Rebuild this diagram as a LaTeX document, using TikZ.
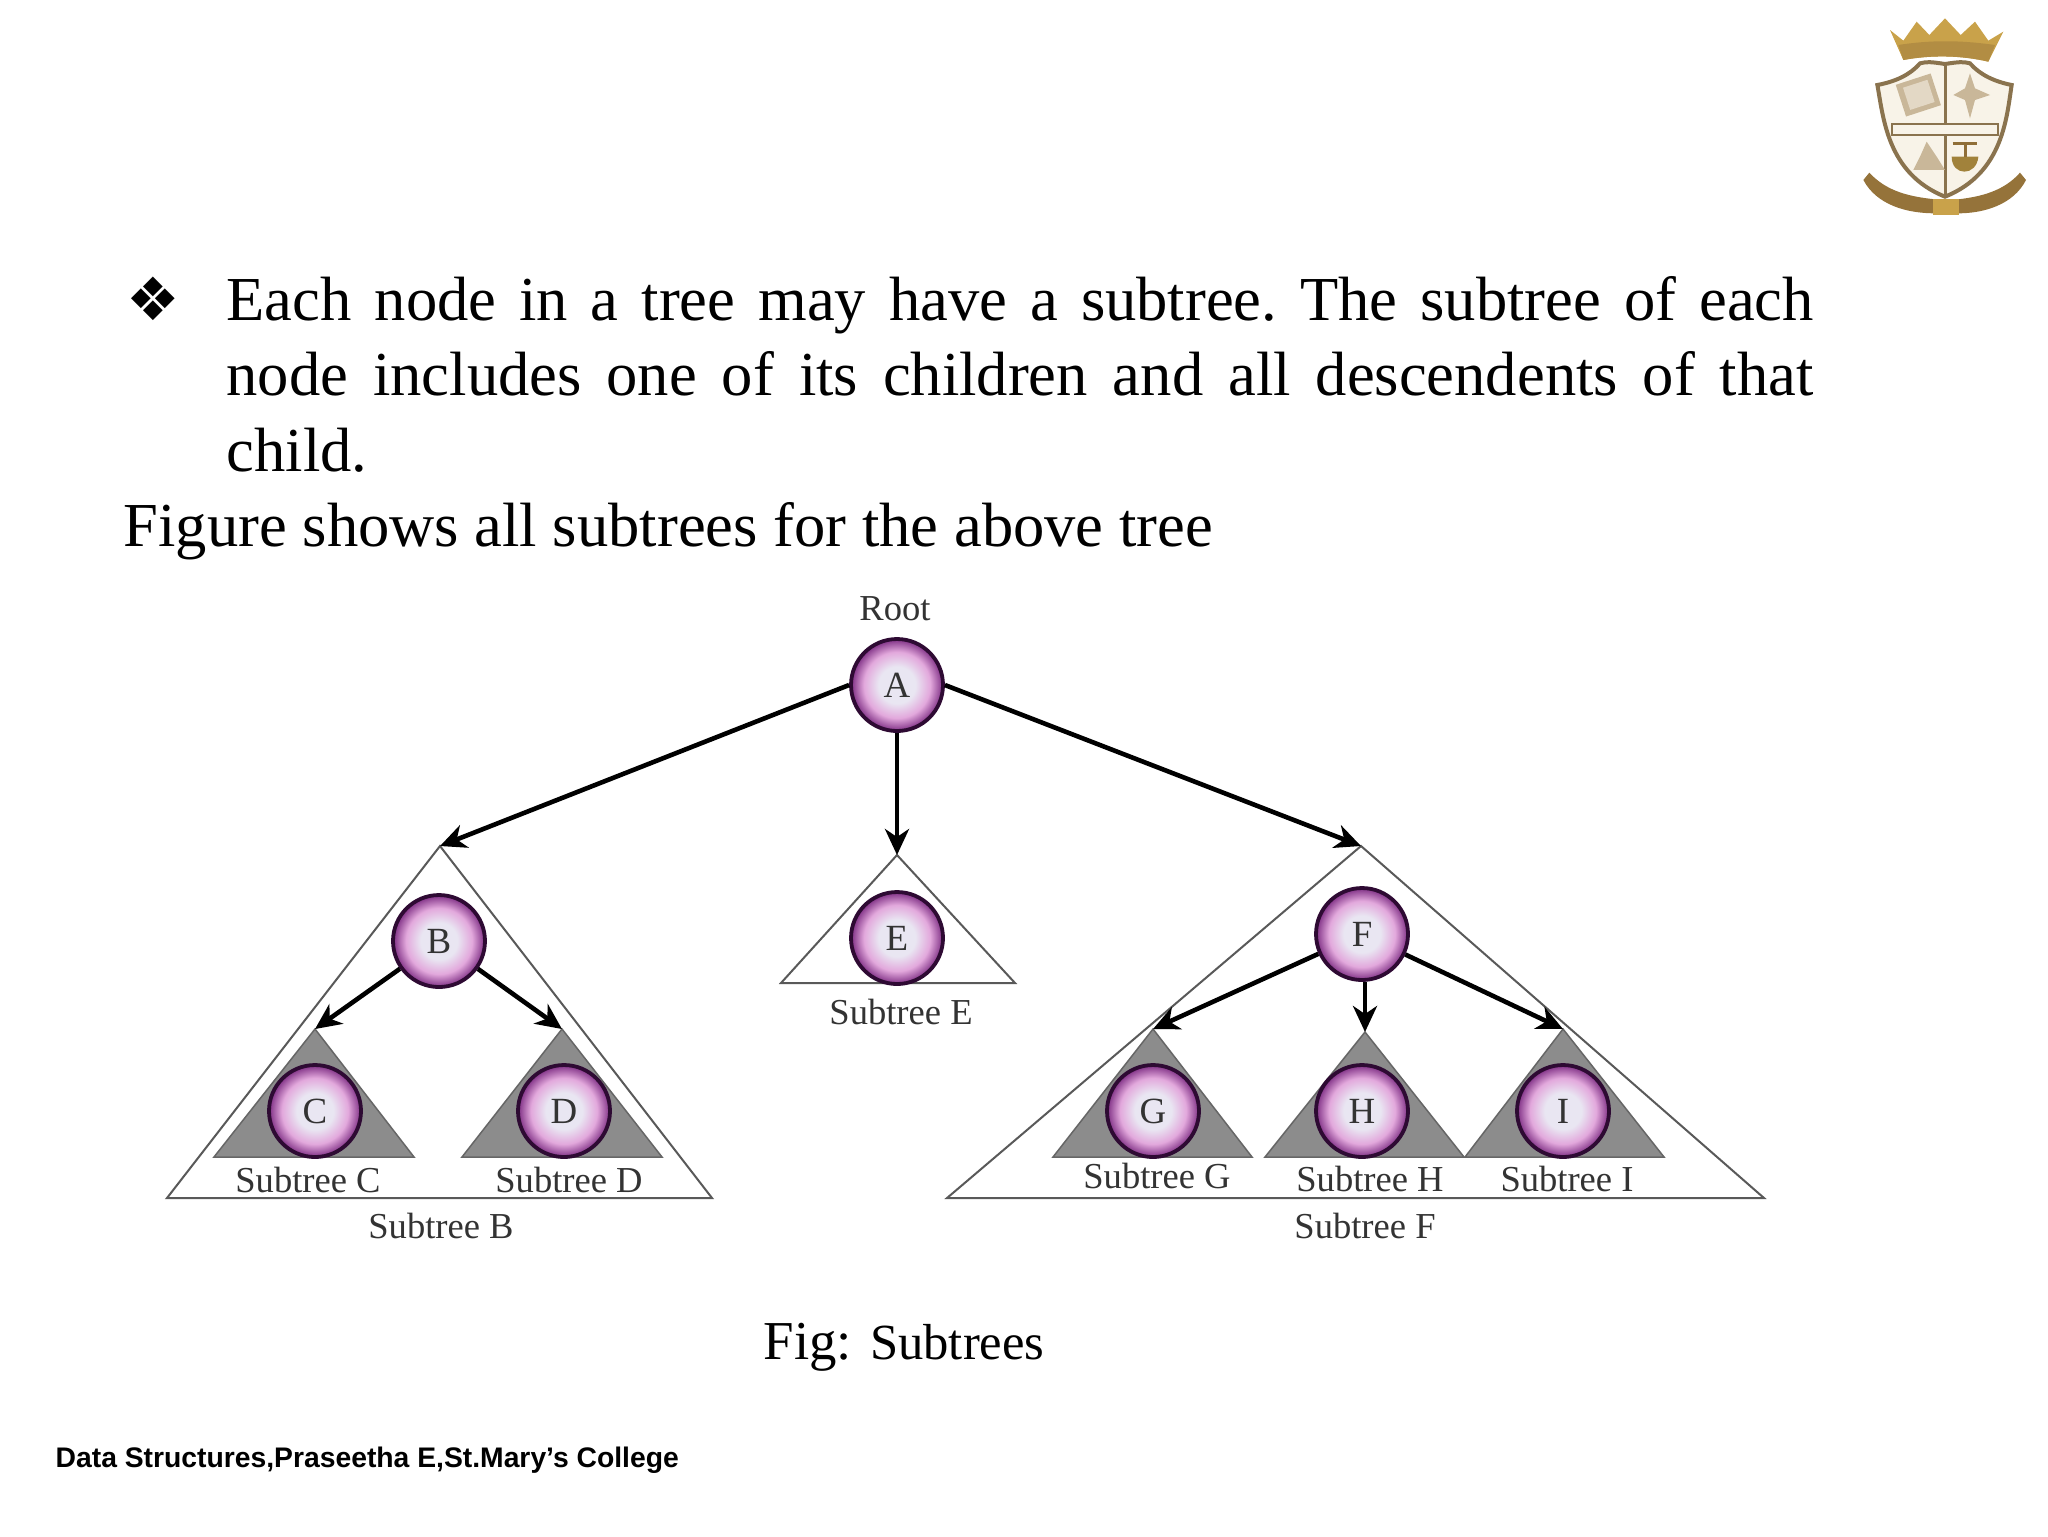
\documentclass[tikz,border=0pt]{standalone}
\usepackage{fontspec}
\setmainfont{Liberation Serif}
\newfontfamily\footfont{Liberation Sans}
\newfontfamily\dingfont{DejaVu Sans}
\usetikzlibrary{arrows.meta, positioning, shapes.geometric}
\definecolor{ballin}{HTML}{E9E6F2}
\definecolor{ballmid}{HTML}{E2A8DC}
\definecolor{ballout}{HTML}{7E2E84}
\definecolor{myedge}{HTML}{2E0A33}
\definecolor{mygold}{HTML}{C9A24A}
\definecolor{mybrown}{HTML}{8F6E38}
\definecolor{mycream}{HTML}{F8F3E8}
\pgfdeclareradialshading{ballshade}{\pgfpoint{0bp}{0bp}}{
	color(0bp)=(ballin); color(10bp)=(ballin); color(18bp)=(ballmid);
	color(25bp)=(ballout); color(50bp)=(ballout)
}
\tikzset{
	treenode/.style={
			circle,
			draw=myedge,
			line width=0.38mm,
			shading=ballshade,
			minimum size=9.2mm,
			inner sep=0pt,
			text=black!80,
			font=\fontsize{10.5}{12}\selectfont
		},
	sublabel/.style={
			inner sep=0pt,
			text=black!80,
			font=\fontsize{10.4}{12}\selectfont
		},
	bodytext/.style={
			inner sep=0pt,
			anchor=west,
			font=\fontsize{17.8}{21.4}\selectfont\frenchspacing
		},
	whitetri/.style={
			draw=black!65,
			line width=0.2mm,
			fill=white
		},
	graytri/.style={
			draw=black!60,
			line width=0.15mm,
			fill=black!45
		},
	treearrow/.style={
			-{Stealth[length=2.6mm,width=2.4mm,inset=0.8mm]},
			line width=0.46mm,
			black
		}
}
\begin{document}
\begin{tikzpicture}[x=0.1mm, y=-0.1mm]
	\useasboundingbox (0,0) rectangle (2048,1536);
	% slide text
	\node[bodytext] (bullet) at (126,299) {\dingfont\fontsize{17}{20}\selectfont ❖};
	\node[bodytext, anchor=north west, text width=158.7mm, align=justify] (para) at (226,276)
		{Each node in a tree may have a subtree. The subtree of each\linebreak node includes one of its children and all descendents of that\linebreak child.};
	\node[bodytext] (figline) at (123,531) {Figure shows all subtrees for the above tree};

	% subtree outlines
	\coordinate (tB) at (440,846);
	\coordinate (tE) at (897,855);
	\coordinate (tF) at (1361,846);
	\coordinate (tC) at (315,1029);
	\coordinate (tD) at (562,1029);
	\coordinate (tG) at (1153,1029);
	\coordinate (tH) at (1365,1032);
	\coordinate (tI) at (1563,1029);
	\draw[whitetri] (tB) -- (167,1198) -- (712,1198) -- cycle;
	\draw[whitetri] (tE) -- (781,983) -- (1015,983) -- cycle;
	\draw[whitetri] (tF) -- (947,1198) -- (1764,1198) -- cycle;
	\draw[graytri] (tC) -- (214,1157) -- (414,1157) -- cycle;
	\draw[graytri] (tD) -- (462,1157) -- (662,1157) -- cycle;
	\draw[graytri] (tG) -- (1053,1157) -- (1252,1157) -- cycle;
	\draw[graytri] (tH) -- (1265,1157) -- (1464,1157) -- cycle;
	\draw[graytri] (tI) -- (1465,1157) -- (1664,1157) -- cycle;

	% tree nodes
	\node[treenode] (A) at (897,685) {A};
	\node[treenode] (B) at (439,941) {B};
	\node[treenode] (E) at (897,938) {E};
	\node[treenode] (F) at (1362,934) {F};
	\node[treenode] (C) at (315,1111) {C};
	\node[treenode] (D) at (564,1111) {D};
	\node[treenode] (G) at (1153,1111) {G};
	\node[treenode] (H) at (1362,1111) {H};
	\node[treenode] (I) at (1563,1111) {I};

	\node[sublabel] (root) at (895,609) {Root};
	\node[sublabel] (sC) at (308,1180) {Subtree C};
	\node[sublabel] (sD) at (569,1180) {Subtree D};
	\node[sublabel] (sB) at (441,1226) {Subtree B};
	\node[sublabel] (sE) at (901,1012) {Subtree E};
	\node[sublabel] (sG) at (1157,1176) {Subtree G};
	\node[sublabel] (sH) at (1370,1179) {Subtree H};
	\node[sublabel] (sI) at (1567,1179) {Subtree I};
	\node[sublabel] (sF) at (1365,1226) {Subtree F};

	\draw[treearrow] (A.west) -- (tB);
	\draw[treearrow] (A) -- (tE);
	\draw[treearrow] (A.east) -- (tF);
	\draw[treearrow] (B) -- (tC);
	\draw[treearrow] (B) -- (tD);
	\draw[treearrow] (F) -- (tG);
	\draw[treearrow] (F.south -| tH) -- (tH);
	\draw[treearrow] (F) -- (tI);

	\node[inner sep=0pt] (figcap) at (904,1347) {\fontsize{15.6}{18}\selectfont Fig: \fontsize{14.4}{18}\selectfont Subtrees};
	\node[inner sep=0pt, anchor=west] (foot) at (55,1460) {\footfont\bfseries\fontsize{8.05}{10}\selectfont Data Structures,Praseetha E,St.Mary’s College};

	% crest, drawn in the zoomed crop's pixels
	\begin{scope}[shift={(1820,0)}, scale=0.3333]
		\fill[mygold] (210,90) -- (250,122) -- (290,65) -- (328,105) -- (375,55) -- (422,105) -- (465,65) -- (505,122) -- (550,95) -- (505,185) .. controls (420,165) and (330,165) .. (250,180) -- cycle;
		\fill[mybrown!40!mygold] (235,135) .. controls (330,120) and (420,120) .. (525,135) -- (505,185) .. controls (420,165) and (330,165) .. (250,180) -- cycle;
		\draw[mybrown!70!gray, line width=0.4mm, fill=mycream] (375,192) .. controls (330,185) and (320,185) .. (300,190) .. controls (270,225) and (225,245) .. (172,255) .. controls (190,350) and (200,520) .. (375,590) .. controls (550,520) and (560,350) .. (575,255) .. controls (525,245) and (480,225) .. (450,190) .. controls (430,185) and (420,185) .. (375,192) -- cycle;
		\draw[mybrown!70!gray, line width=0.3mm] (375,195) -- (375,590);
		\draw[mybrown!70!gray, line width=0.2mm, fill=mycream] (215,372) rectangle (535,405);
		\fill[mybrown!45!mycream, rotate around={18:(295,285)}] (240,235) rectangle (350,335);
		\fill[mycream!80!mybrown, rotate around={18:(295,285)}] (258,250) rectangle (335,320);
		\fill[mybrown!45!mycream] (450,220) -- (465,265) -- (510,285) -- (465,300) -- (450,355) -- (435,300) -- (400,285) -- (435,265) -- cycle;
		\fill[mybrown!45!mycream] (320,425) -- (350,470) -- (375,510) -- (280,510) -- (300,470) -- cycle;
		\fill[mygold!80!black] (395,470) .. controls (395,530) and (470,530) .. (475,470) -- cycle;
		\draw[mybrown, line width=0.3mm] (398,430) -- (472,430) (435,430) -- (435,470);
		\fill[mybrown!90!mygold] (130,540) -- (148,518) .. controls (200,575) and (270,590) .. (345,598) -- (345,640) .. controls (260,640) and (170,615) .. (130,540) -- cycle;
		\fill[mybrown!90!mygold] (618,540) -- (600,518) .. controls (550,575) and (480,590) .. (415,598) -- (415,640) .. controls (490,640) and (580,615) .. (618,540) -- cycle;
		\fill[mygold] (340,598) rectangle (418,645);
	\end{scope}
\end{tikzpicture}
\end{document}
